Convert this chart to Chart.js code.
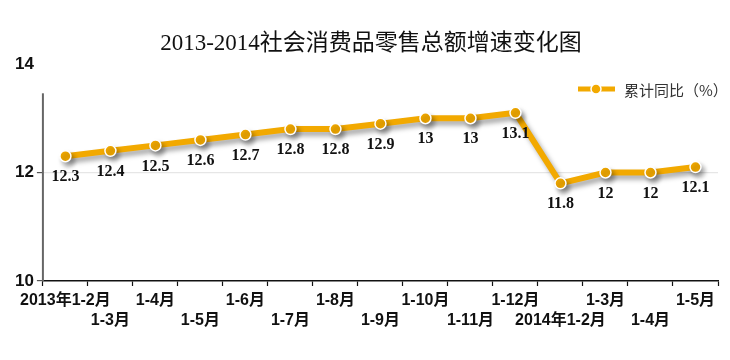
<!DOCTYPE html>
<html><head><meta charset="utf-8">
<script src="https://cdn.jsdelivr.net/npm/chart.js@4/dist/chart.umd.min.js"></script>
<style>html,body{margin:0;padding:0;background:#fff}#wrap{width:730px;height:360px}</style>
</head><body><div id="wrap"><canvas id="c" width="730" height="360"></canvas></div>
<script>
const title = '2013-2014社会消费品零售总额增速变化图';
const seriesName = '累计同比（%）';
const categories = ['2013年1-2月','1-3月','1-4月','1-5月','1-6月','1-7月','1-8月','1-9月','1-10月','1-11月','1-12月','2014年1-2月','1-3月','1-4月','1-5月'];
const values = [12.3, 12.4, 12.5, 12.6, 12.7, 12.8, 12.8, 12.9, 13, 13, 13.1, 11.8, 12, 12, 12.1];
const yTicks = [10, 12, 14];

const ORANGE = '#F2A900';

const plugin = {
  id: 'custom',
  beforeDatasetDraw(chart) {
    const ctx = chart.ctx;
    ctx.save();
    ctx.shadowColor = 'rgba(0,0,0,0.35)';
    ctx.shadowBlur = 5;
    ctx.shadowOffsetX = 3;
    ctx.shadowOffsetY = 4;
  },
  afterDatasetDraw(chart) { chart.ctx.restore(); },
  afterDraw(chart) {
    const ctx = chart.ctx, ca = chart.chartArea;
    const y = chart.scales.y;
    // title
    ctx.save();
    ctx.fillStyle = '#111';
    ctx.font = '23px "Liberation Serif", "Noto Sans CJK SC"';
    ctx.textAlign = 'center'; ctx.textBaseline = 'middle';
    ctx.fillText(title, 371, 44);
    // y axis line
    ctx.strokeStyle = '#666'; ctx.lineWidth = 2;
    ctx.beginPath();
    ctx.moveTo(ca.left, ca.bottom);
    ctx.lineTo(ca.left, y.getPixelForValue(13.46));
    ctx.stroke();
    // data labels
    const meta = chart.getDatasetMeta(0);
    ctx.fillStyle = '#111';
    ctx.font = 'bold 16px "Liberation Serif"';
    meta.data.forEach((pt, i) => {
      ctx.fillText(String(values[i]), pt.x, pt.y + 21);
    });
    // legend
    const lx = ca.right - 140, ly = 89;
    ctx.strokeStyle = ORANGE; ctx.lineWidth = 5;
    ctx.beginPath(); ctx.moveTo(lx, ly); ctx.lineTo(lx + 37, ly); ctx.stroke();
    ctx.beginPath(); ctx.arc(lx + 18, ly, 5, 0, Math.PI * 2);
    ctx.fillStyle = ORANGE; ctx.fill();
    ctx.strokeStyle = '#fff'; ctx.lineWidth = 1.5; ctx.stroke();
    ctx.fillStyle = '#333';
    ctx.font = '15px "Noto Sans CJK SC"';
    ctx.textAlign = 'left';
    ctx.fillText(seriesName, lx + 46, ly + 1);
    ctx.restore();
  }
};

new Chart(document.getElementById('c'), {
  type: 'line',
  data: {
    labels: categories,
    datasets: [{
      label: seriesName,
      data: values,
      borderColor: ORANGE,
      borderWidth: 6,
      pointRadius: 5.5,
      pointBackgroundColor: ORANGE,
      pointBorderColor: '#fff',
      pointBorderWidth: 1.5,
      tension: 0,
      fill: false
    }]
  },
  options: {
    responsive: false,
    animation: false,
    layout: { padding: { top: 64, left: 12, right: 12, bottom: 24 } },
    plugins: { legend: { display: false }, title: { display: false }, tooltip: { enabled: false } },
    scales: {
      x: {
        offset: true,
        grid: { offset: true, drawOnChartArea: false, drawTicks: true, tickLength: 5, color: '#111', tickWidth: 1.2 },
        border: { display: true, color: '#111', width: 1.5 },
        ticks: {
          autoSkip: false, maxRotation: 0, minRotation: 0, padding: 5,
          color: '#111',
          font: { family: '"Liberation Sans", "Noto Sans CJK SC"', size: 16, weight: 'bold', lineHeight: 1.25 },
          callback: function (v, i) { const l = categories[i]; return i % 2 === 0 ? l : ['', l]; }
        }
      },
      y: {
        min: 10, max: 14,
        afterBuildTicks(scale) { scale.ticks = yTicks.map(v => ({ value: v })); },
        grid: {
          drawTicks: true, tickLength: 6,
          color: ctx => ctx.tick && ctx.tick.value === 12 ? '#e6e6e6' : 'rgba(0,0,0,0)',
          tickColor: ctx => ctx.tick && ctx.tick.value === 14 ? 'rgba(0,0,0,0)' : '#555',
          lineWidth: 1.2
        },
        border: { display: false },
        ticks: {
          padding: 3, color: '#111',
          font: { family: '"Liberation Sans"', size: 17, weight: 'bold' }
        }
      }
    }
  },
  plugins: [plugin]
});
</script></body></html>
